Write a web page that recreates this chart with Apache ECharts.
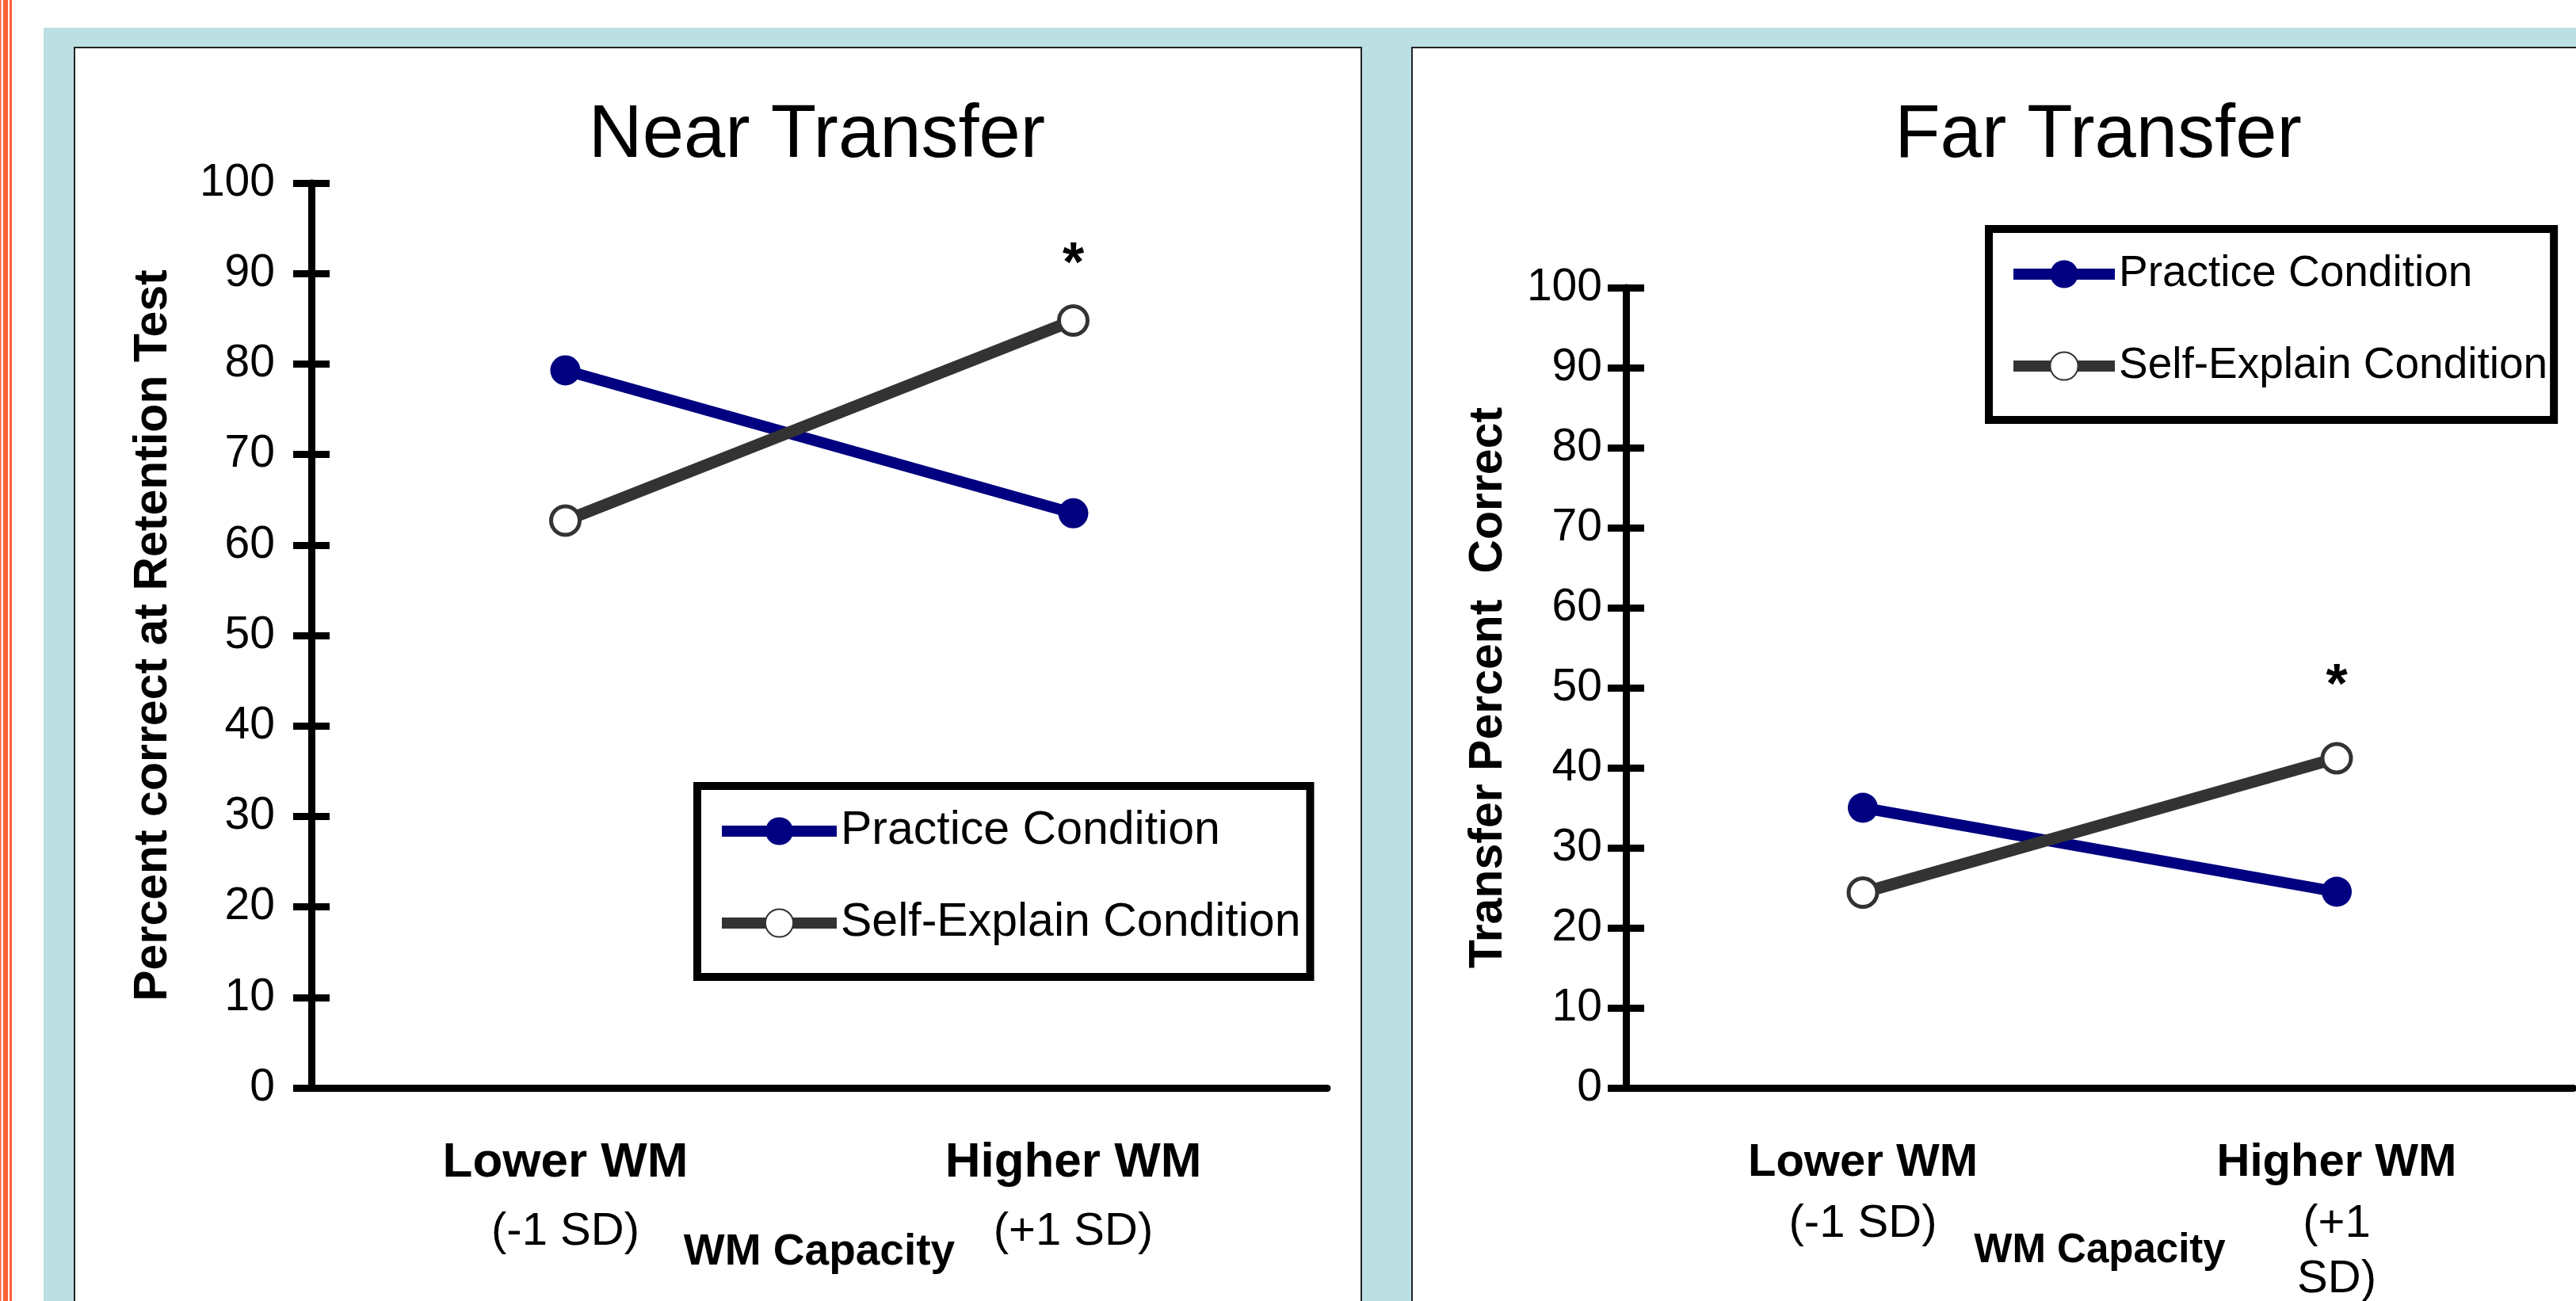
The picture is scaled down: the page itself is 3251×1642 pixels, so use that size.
<!DOCTYPE html>
<html>
<head>
<meta charset="utf-8">
<title>Near / Far Transfer</title>
<script src="https://cdn.jsdelivr.net/npm/echarts@6/dist/echarts.min.js"></script>
<style>
html, body { margin: 0; padding: 0; background: #fff; }
#chart { width: 3251px; height: 1642px; }
</style>
</head>
<body>
<div id="chart"></div>
<script>
// data
var categories = ['Lower WM', 'Higher WM'];
var nearSub = ['(-1 SD)', '(+1 SD)'];
var farSub = ['(-1 SD)', '(+1\nSD)'];
var seriesNames = ['Practice Condition', 'Self-Explain Condition'];
var nearPractice = [79.3, 63.5];
var nearSelf = [62.7, 84.8];
var farPractice = [35.0, 24.5];
var farSelf = [24.4, 41.2];
var yMin = 0, yMax = 100, yStep = 10;

var FONT = '"Liberation Sans", Arial, sans-serif';
var NAVY = '#000080';
var DARK = '#333333';

function catLabel(sub) {
    return function (val, i) {
        var lines = sub[i].split('\n').map(function (s) { return '{r|' + s + '}'; });
        return '{b|' + val + '}\n' + lines.join('\n');
    };
}

function xAxisFor(gridIndex, sub, bSize, rLine, nameSize) {
    return {
        gridIndex: gridIndex,
        type: 'category',
        data: categories,
        boundaryGap: true,
        axisLine: { show: true, onZero: false, lineStyle: { color: '#000', width: 9 } },
        axisTick: { show: false },
        splitLine: { show: false },
        axisLabel: {
            interval: 0,
            margin: 53,
            color: '#000',
            formatter: catLabel(sub),
            rich: {
                b: { fontFamily: FONT, fontWeight: 'bold', fontSize: bSize, lineHeight: 84, color: '#000' },
                r: { fontFamily: FONT, fontSize: 58, lineHeight: rLine, color: '#000' }
            }
        },
        name: 'WM Capacity',
        nameLocation: 'middle',
        nameGap: 180,
        nameMoveOverlap: false,
        nameTextStyle: { fontFamily: FONT, fontWeight: 'bold', fontSize: nameSize, color: '#000' }
    };
}

function yAxisFor(gridIndex, name, gap, labelMargin) {
    return [{
        gridIndex: gridIndex,
        type: 'value',
        position: 'left',
        min: yMin, max: yMax, interval: yStep,
        axisLine: { show: true, lineStyle: { color: '#000', width: 9 } },
        axisTick: { show: true, length: 23, lineStyle: { color: '#000', width: 9 } },
        splitLine: { show: false },
        axisLabel: { margin: labelMargin, fontFamily: FONT, fontSize: 57, color: '#000' },
        name: name,
        nameLocation: 'middle',
        nameGap: gap,
        nameMoveOverlap: false,
        nameTextStyle: { fontFamily: FONT, fontWeight: 'bold', fontSize: 59, color: '#000' }
    }, {
        // ticks also run into the plot, so a second axis draws the inner half
        gridIndex: gridIndex,
        type: 'value',
        position: 'left',
        min: yMin, max: yMax, interval: yStep,
        axisLine: { show: false },
        axisTick: { show: true, inside: true, length: 23, lineStyle: { color: '#000', width: 9 } },
        axisLabel: { show: false },
        splitLine: { show: false }
    }];
}

function starItem(v, dist) {
    return {
        value: v,
        label: {
            show: true, position: 'top', distance: dist, formatter: '*',
            fontFamily: FONT, fontWeight: 'bold', fontSize: 70, color: '#000'
        }
    };
}

function practiceSeries(xi, yi, data) {
    return {
        name: seriesNames[0], type: 'line', xAxisIndex: xi, yAxisIndex: yi,
        data: data, symbol: 'circle', symbolSize: 38,
        lineStyle: { color: NAVY, width: 14 },
        itemStyle: { color: NAVY },
        emphasis: { disabled: true }, animation: false
    };
}

function selfSeries(xi, yi, data) {
    return {
        name: seriesNames[1], type: 'line', xAxisIndex: xi, yAxisIndex: yi,
        data: data, symbol: 'circle', symbolSize: 36,
        lineStyle: { color: DARK, width: 15 },
        itemStyle: { color: '#fff', borderColor: DARK, borderWidth: 5 },
        emphasis: { disabled: true }, animation: false
    };
}

function legendAt(left, top, lineLen, fontSize, padRight) {
    return {
        left: left, top: top,
        orient: 'vertical',
        data: seriesNames,
        itemWidth: lineLen, itemHeight: 44, itemGap: 52,
        padding: [25, padRight, 36, 24],
        borderColor: '#000', borderWidth: 10,
        backgroundColor: '#fff',
        selectedMode: false,
        lineStyle: { width: 14 },
        textStyle: { fontFamily: FONT, fontSize: fontSize, lineHeight: 64, color: '#000' }
    };
}

var nearSelfData = [nearSelf[0], starItem(nearSelf[1], 13)];
var farSelfData = [farSelf[0], starItem(farSelf[1], 34)];

var chart = echarts.init(document.getElementById('chart'));
chart.setOption({
    backgroundColor: '#fff',
    animation: false,
    graphic: [
        { type: 'rect', z: -100, shape: { x: 0, y: 0, width: 1.5, height: 1642 }, style: { fill: '#FF6038' } },
        { type: 'rect', z: -100, shape: { x: 4, y: 0, width: 6, height: 1642 }, style: { fill: '#FF6038' } },
        { type: 'rect', z: -100, shape: { x: 12, y: 0, width: 3, height: 1642 }, style: { fill: '#FF6038' } },
        { type: 'rect', z: -100, shape: { x: 55, y: 35, width: 3300, height: 1700 }, style: { fill: '#BBDFE2' } },
        { type: 'rect', z: -99, shape: { x: 94, y: 60, width: 1624, height: 1700 }, style: { fill: '#fff', stroke: '#222', lineWidth: 2 } },
        { type: 'rect', z: -99, shape: { x: 1782, y: 60, width: 1600, height: 1700 }, style: { fill: '#fff', stroke: '#222', lineWidth: 2 } },
        { type: 'text', z: 10, x: 1031, y: 172, style: { text: 'Near Transfer', fontFamily: FONT, fontSize: 94, fill: '#000', align: 'center', verticalAlign: 'middle' } },
        { type: 'text', z: 10, x: 2648, y: 172, style: { text: 'Far Transfer', fontFamily: FONT, fontSize: 94, fill: '#000', align: 'center', verticalAlign: 'middle' } }
    ],
    grid: [
        { left: 393, top: 231, width: 1282, bottom: 269, containLabel: false, outerBoundsMode: 'none' },
        { left: 2052, top: 363, width: 1196, bottom: 269, containLabel: false, outerBoundsMode: 'none' }
    ],
    xAxis: [xAxisFor(0, nearSub, 62, 90, 55), xAxisFor(1, farSub, 58, 70, 51)],
    yAxis: yAxisFor(0, 'Percent correct at Retention Test', 170, 46)
        .concat(yAxisFor(1, 'Transfer Percent  Correct', 144, 30)),
    legend: [legendAt(880, 992, 145, 59, 12), legendAt(2510, 289, 128, 55, 8)],
    series: [
        practiceSeries(0, 0, nearPractice),
        selfSeries(0, 0, nearSelfData),
        practiceSeries(1, 2, farPractice),
        selfSeries(1, 2, farSelfData)
    ]
});
</script>
</body>
</html>
